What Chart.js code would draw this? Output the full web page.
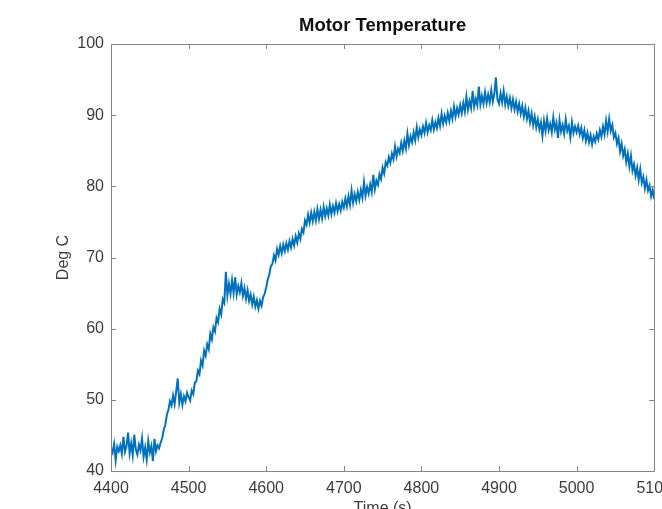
<!DOCTYPE html>
<html>
<head>
<meta charset="utf-8">
<title>Motor Temperature</title>
<script src="https://cdn.jsdelivr.net/npm/chart.js@4.4.1/dist/chart.umd.min.js"></script>
<style>
    html, body { margin: 0; padding: 0; background: #fff; overflow: hidden; }
    #wrap { width: 662px; height: 509px; overflow: hidden; }
</style>
</head>
<body>
<div id="wrap"><canvas id="motorChart" width="680" height="530"></canvas></div>
<script>
const startTime = 4400;
const sampleStep = 2;

const temp4400 = [43.2, 42.6, 43.8, 41.5, 43.4, 42.8, 43.6, 42.4, 44.8, 42.7,
                  43.5, 45.4, 42.5, 43.9, 42.2, 45.1, 43.0, 42.3, 43.7, 42.9,
                  44.6, 42.0, 43.3, 41.6, 44.2, 42.6, 43.5, 41.4, 44.5, 42.8,
                  43.6, 43.2, 44.0, 44.6, 45.8, 46.5, 47.9, 48.6, 49.8, 49.2,
                  50.6, 49.4, 51.2, 53.0, 49.6, 50.8, 49.3, 50.5, 49.8, 51.0];
const temp4500 = [50.4, 49.9, 51.3, 50.8, 52.4, 52.6, 54.1, 53.6, 55.5, 54.8,
                  56.9, 56.2, 57.8, 57.1, 59.3, 58.5, 60.2, 59.6, 61.5, 60.9,
                  62.8, 62.0, 64.1, 63.6, 68.0, 64.7, 66.3, 64.9, 66.8, 65.0,
                  67.2, 64.8, 66.0, 65.1, 66.4, 64.6, 65.7, 64.2, 65.4, 63.9,
                  64.8, 63.4, 64.5, 63.1, 64.0, 62.8, 63.9, 63.2, 64.4, 64.9];
const temp4600 = [65.8, 66.9, 67.6, 68.8, 69.1, 70.3, 69.6, 71.2, 70.4, 71.6,
                  70.6, 71.8, 70.9, 72.0, 71.1, 72.3, 71.4, 72.6, 71.7, 73.0,
                  72.1, 73.4, 72.6, 74.0, 73.5, 75.2, 74.6, 76.0, 74.9, 76.3,
                  75.1, 76.4, 75.2, 76.8, 75.4, 76.7, 75.5, 77.1, 75.8, 76.9,
                  75.9, 77.4, 76.1, 77.2, 76.3, 77.6, 76.5, 77.5, 76.6, 77.8];
const temp4700 = [77.0, 78.3, 77.2, 78.6, 77.4, 79.4, 77.7, 78.9, 77.9, 79.2,
                  78.1, 79.5, 78.4, 80.6, 78.7, 79.9, 79.0, 80.3, 79.2, 81.6,
                  79.6, 80.8, 80.2, 81.7, 81.0, 82.6, 81.8, 83.4, 82.9, 84.1,
                  83.3, 84.6, 83.8, 85.6, 84.2, 85.3, 84.7, 86.1, 85.0, 86.4,
                  85.3, 87.4, 85.8, 87.0, 86.2, 87.6, 86.5, 88.3, 86.9, 88.0];
const temp4800 = [87.2, 88.4, 87.5, 88.9, 87.6, 88.6, 87.9, 89.3, 88.0, 89.0,
                  88.2, 89.6, 88.5, 90.2, 88.8, 89.9, 89.0, 90.3, 89.2, 90.6,
                  89.5, 91.2, 89.8, 91.0, 90.1, 91.4, 90.3, 91.7, 90.5, 92.6,
                  90.8, 92.0, 91.0, 93.4, 91.2, 92.3, 91.4, 94.0, 91.5, 92.7,
                  91.6, 93.2, 91.7, 92.9, 91.8, 93.5, 91.9, 93.0, 95.3, 92.2];
const temp4900 = [91.6, 93.1, 91.8, 93.4, 91.5, 92.6, 91.3, 92.4, 91.0, 92.2,
                  90.8, 91.9, 90.5, 91.6, 90.2, 91.3, 89.8, 91.0, 89.5, 90.6,
                  89.0, 90.2, 88.6, 89.8, 88.3, 89.4, 88.0, 89.0, 87.1, 89.2,
                  87.8, 89.5, 87.9, 88.8, 87.6, 89.7, 88.0, 88.9, 86.8, 89.3,
                  87.7, 88.6, 87.4, 89.4, 87.8, 88.5, 86.9, 89.0, 87.5, 88.4];
const temp5000 = [87.6, 88.5, 87.3, 88.2, 86.8, 87.9, 86.4, 87.5, 86.2, 87.2,
                  85.9, 87.0, 86.3, 87.4, 86.6, 87.9, 87.0, 88.4, 87.3, 89.2,
                  87.7, 89.5, 87.8, 88.6, 86.9, 87.5, 86.0, 86.8, 84.9, 86.0,
                  84.3, 85.2, 83.4, 84.6, 82.8, 84.3, 82.2, 83.1, 81.5, 82.6,
                  80.9, 82.4, 80.5, 81.3, 79.7, 80.9, 79.4, 80.1, 78.6, 79.5,
                  78.2];

const xTicks = [4400, 4500, 4600, 4700, 4800, 4900, 5000, 5100];
const yTicks = [40, 50, 60, 70, 80, 90, 100];

const allTemps = [].concat(temp4400, temp4500, temp4600, temp4700, temp4800, temp4900, temp5000);
const points = allTemps.map(function (v, i) {
    return { x: startTime + i * sampleStep, y: v };
});

const fontFamily = "'Liberation Sans', Arial, Helvetica, sans-serif";
const axisGray = "#858585";
const labelGray = "#3c3c3c";

// matlab-style box with inward ticks on all four sides
const boxPlugin = {
    id: "matlabBox",
    afterDraw: function (chart) {
        const ctx = chart.ctx;
        const a = chart.chartArea;
        const xs = chart.scales.x;
        const ys = chart.scales.y;
        const tl = 5;
        ctx.save();
        ctx.strokeStyle = axisGray;
        ctx.lineWidth = 1;
        ctx.beginPath();
        ctx.rect(Math.round(a.left) + 0.5, Math.round(a.top) + 0.5,
                 Math.round(a.right - a.left), Math.round(a.bottom - a.top));
        xTicks.forEach(function (t) {
            let px = Math.round(xs.getPixelForValue(t)) + 0.5;
            ctx.moveTo(px, a.bottom);
            ctx.lineTo(px, a.bottom - tl);
            ctx.moveTo(px, a.top);
            ctx.lineTo(px, a.top + tl);
        });
        yTicks.forEach(function (t) {
            let py = Math.round(ys.getPixelForValue(t)) + 0.5;
            ctx.moveTo(a.left, py);
            ctx.lineTo(a.left + tl, py);
            ctx.moveTo(a.right, py);
            ctx.lineTo(a.right - tl, py);
        });
        ctx.stroke();
        ctx.restore();
    }
};

const ctx = document.getElementById("motorChart").getContext("2d");
new Chart(ctx, {
    type: "line",
    data: {
        datasets: [{
            label: "Motor Temperature",
            data: points,
            borderColor: "#0072BD",
            borderWidth: 2,
            pointRadius: 0,
            tension: 0,
            fill: false
        }]
    },
    options: {
        responsive: false,
        animation: false,
        events: [],
        layout: { padding: { left: 0, right: 25, top: 0, bottom: 0 } },
        plugins: {
            legend: { display: false },
            tooltip: { enabled: false },
            title: {
                display: true,
                text: "Motor Temperature",
                fullSize: false,
                color: "#111",
                font: { family: fontFamily, size: 18.5, weight: "bold" },
                padding: { top: 15, bottom: 6.8 }
            }
        },
        scales: {
            x: {
                type: "linear",
                min: 4400,
                max: 5100,
                afterFit: function (s) { s.height = 59; },
                afterBuildTicks: function (s) {
                    s.ticks = xTicks.map(function (v) { return { value: v }; });
                },
                grid: { display: false, drawTicks: false },
                border: { display: false },
                ticks: {
                    color: labelGray,
                    padding: 8,
                    maxRotation: 0,
                    autoSkip: false,
                    font: { family: fontFamily, size: 16 },
                    callback: function (v) { return String(v); }
                },
                title: {
                    display: true,
                    text: "Time (s)",
                    color: labelGray,
                    font: { family: fontFamily, size: 16 },
                    padding: { top: 0, bottom: 12 }
                }
            },
            y: {
                type: "linear",
                min: 40,
                max: 100,
                afterFit: function (s) { s.width = 111; },
                afterBuildTicks: function (s) {
                    s.ticks = yTicks.map(function (v) { return { value: v }; });
                },
                grid: { display: false, drawTicks: false },
                border: { display: false },
                ticks: {
                    color: labelGray,
                    padding: 7,
                    autoSkip: false,
                    font: { family: fontFamily, size: 16 },
                    callback: function (v) { return String(v); }
                },
                title: {
                    display: true,
                    text: "Deg C",
                    color: labelGray,
                    font: { family: fontFamily, size: 16 },
                    padding: { top: 54, bottom: 0 }
                }
            }
        }
    },
    plugins: [boxPlugin]
});
</script>
</body>
</html>
